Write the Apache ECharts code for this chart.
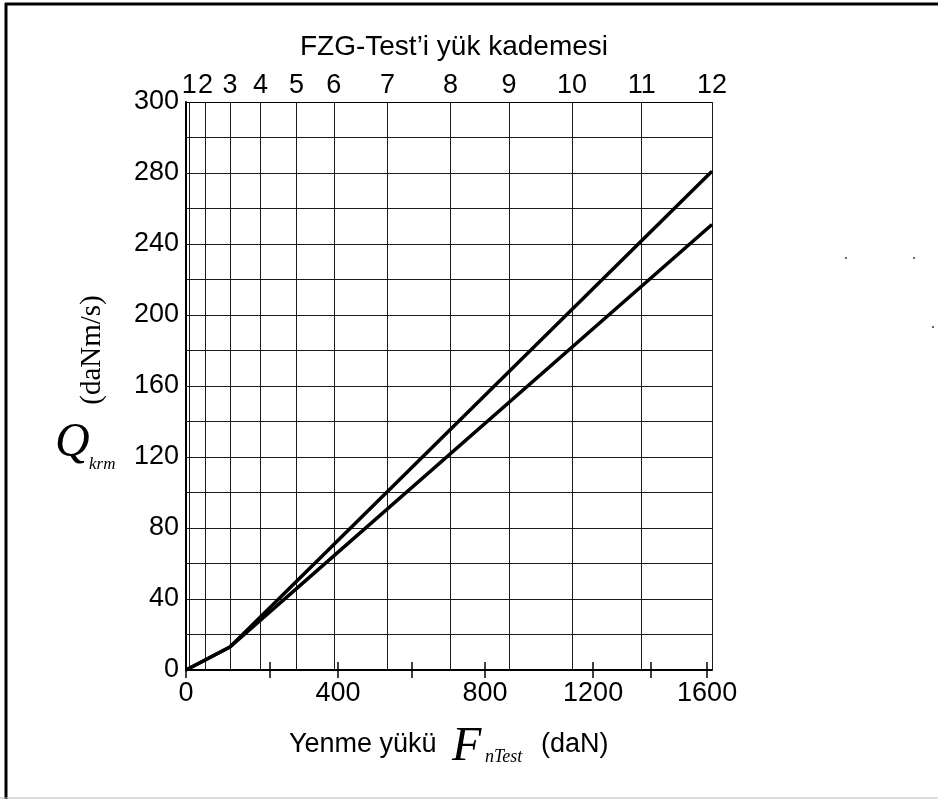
<!DOCTYPE html>
<html>
<head>
<meta charset="utf-8">
<title>Qkrm - FnTest</title>
<script src="https://cdn.jsdelivr.net/npm/echarts@6.0.0/dist/echarts.min.js"></script>
<style>
  html, body { margin: 0; padding: 0; background: #fff; }
  #chart { width: 938px; height: 799px; }
</style>
</head>
<body>
<div id="chart"></div>
<script>
// FZG load stages (top axis) and where they sit on the bottom scale
const loadStages = ['1', '2', '3', '4', '5', '6', '7', '8', '9', '10', '11', '12'];
const loadStageF = [10, 60, 135, 229, 339, 454, 619, 812, 992, 1185, 1399, 1615];

// bottom axis: printed labels and where the figure puts them (scale is not even)
const xTickText = ['0', '400', '800', '1200', '1600'];
const xTickAt = [0, 467, 918, 1250, 1600];
const xMinorAt = [258, 694, 1428];

// left axis labels every 40 (the top one is printed as 300)
const yTickText = ['0', '40', '80', '120', '160', '200', '240', '280', '300'];

// the two lines: origin, stage 3, stage 12
const lineF = [0, 135, 1615];
const upperQ = [0, 13, 281];
const lowerQ = [0, 13, 251];

const xMax = 1615;
const sans = 'Liberation Sans, Arial, sans-serif';
const serif = 'Liberation Serif, Times New Roman, serif';

let chart = echarts.init(document.getElementById('chart'));

function pts(xs, ys) {
    return xs.map((x, i) => [x, ys[i]]);
}

chart.setOption({
    animation: false,
    backgroundColor: '#fff',
    title: {
        text: 'FZG-Test’i yük kademesi',
        left: 449,
        top: 28,
        textAlign: 'center',
        textStyle: { fontFamily: sans, fontSize: 28, fontWeight: 'normal', color: '#000' }
    },
    grid: { left: 186, right: 226, top: 102, bottom: 129, outerBoundsMode: 'none' },
    xAxis: [
        {
            type: 'value', min: 0, max: xMax, position: 'bottom',
            axisLine: { lineStyle: { color: '#000', width: 2 } },
            axisTick: { customValues: xTickAt.concat(xMinorAt), length: 8, lineStyle: { color: '#000', width: 1.5 } },
            axisLabel: {
                customValues: xTickAt,
                formatter: v => xTickText[xTickAt.indexOf(v)],
                fontFamily: sans, fontSize: 27, color: '#000', margin: 10
            },
            splitLine: { show: false }
        },
        {
            type: 'value', min: 0, max: xMax, position: 'top',
            axisLine: { show: true, lineStyle: { color: '#000', width: 1 } },
            axisTick: { show: false },
            axisLabel: {
                customValues: loadStageF,
                formatter: v => loadStages[loadStageF.indexOf(v)],
                fontFamily: sans, fontSize: 27, color: '#000', margin: 3
            },
            splitLine: { show: false }
        },
        {
            type: 'value', min: 0, max: xMax, position: 'bottom',
            axisLine: { show: false },
            axisTick: { inside: true, customValues: xTickAt.concat(xMinorAt), length: 8, lineStyle: { color: '#000', width: 1.5 } },
            axisLabel: { show: false },
            splitLine: { show: false }
        }
    ],
    yAxis: {
        type: 'value', min: 0, max: 320, interval: 20,
        axisLine: { show: true, lineStyle: { color: '#000', width: 2 } },
        axisTick: { show: false },
        axisLabel: {
            formatter: v => (v % 40 === 0 ? yTickText[v / 40] : ''),
            fontFamily: sans, fontSize: 27, color: '#000', margin: 7
        },
        splitLine: { show: true, lineStyle: { color: '#1a1a1a', width: 1 } }
    },
    series: [
        {
            name: 'upper', type: 'line', data: pts(lineF, upperQ),
            symbol: 'none', lineStyle: { color: '#000', width: 3.5 },
            markLine: {
                silent: true, symbol: 'none', label: { show: false },
                lineStyle: { color: '#1a1a1a', width: 1, type: 'solid' },
                data: loadStageF.map(v => ({ xAxis: v }))
            },
            z: 5
        },
        {
            name: 'lower', type: 'line', data: pts(lineF, lowerQ),
            symbol: 'none', lineStyle: { color: '#000', width: 3.5 }, z: 5
        }
    ],
    graphic: [
        // frame
        { type: 'line', shape: { x1: 6, y1: 3, x2: 6, y2: 799 }, style: { stroke: '#000', lineWidth: 3 } },
        { type: 'line', shape: { x1: 5, y1: 4, x2: 938, y2: 4 }, style: { stroke: '#000', lineWidth: 3 } },
        { type: 'line', shape: { x1: 0, y1: 798, x2: 938, y2: 798 }, style: { stroke: '#bbb', lineWidth: 1 } },
        // y axis name
        { type: 'text', x: 92, y: 350, rotation: Math.PI / 2,
          style: { text: '(daNm/s)', fontFamily: serif, fontSize: 29, fill: '#000', align: 'center', verticalAlign: 'middle' } },
        { type: 'text', x: 55, y: 443,
          style: { text: 'Q', fontFamily: serif, fontStyle: 'italic', fontSize: 48, fill: '#000', verticalAlign: 'middle' } },
        { type: 'text', x: 89, y: 465,
          style: { text: 'krm', fontFamily: serif, fontStyle: 'italic', fontSize: 17, fill: '#000', verticalAlign: 'middle' } },
        // x axis name
        { type: 'text', x: 289, y: 745,
          style: { text: 'Yenme yükü', fontFamily: sans, fontSize: 27, fill: '#000', verticalAlign: 'middle' } },
        { type: 'text', x: 452, y: 747,
          style: { text: 'F', fontFamily: serif, fontStyle: 'italic', fontSize: 48, fill: '#000', verticalAlign: 'middle' } },
        { type: 'text', x: 485, y: 757,
          style: { text: 'nTest', fontFamily: serif, fontStyle: 'italic', fontSize: 18, fill: '#000', verticalAlign: 'middle' } },
        { type: 'text', x: 541, y: 745,
          style: { text: '(daN)', fontFamily: sans, fontSize: 27, fill: '#000', verticalAlign: 'middle' } },
        // stray specks in the scan
        { type: 'circle', shape: { cx: 846, cy: 258, r: 1 }, style: { fill: '#333' } },
        { type: 'circle', shape: { cx: 914, cy: 258, r: 1 }, style: { fill: '#333' } },
        { type: 'circle', shape: { cx: 933, cy: 327, r: 1 }, style: { fill: '#333' } }
    ]
});
</script>
</body>
</html>
